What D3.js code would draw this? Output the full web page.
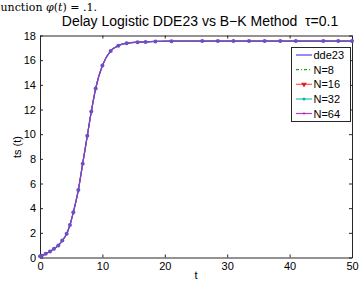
<!DOCTYPE html>
<html><head><meta charset="utf-8">
<script src="https://cdn.jsdelivr.net/npm/d3@7"></script>
<style>body{margin:0;background:#fff}svg{display:block}</style>
</head><body><div id="c"></div>
<script>
// Data (all solutions overlap)
const times = [0, 0.27, 0.91, 1.6, 2.24, 2.93, 3.57, 4.27, 4.8, 5.34, 6.14, 6.84, 7.58, 8.22, 8.92, 10.0, 11.33, 12.54, 13.88, 15.64, 16.92, 18.5, 21.07, 26, 28.5, 31, 33.5, 36, 38.5, 41, 45.4, 47.8, 50];
const dde23 = [0.1, 0.14, 0.3, 0.49, 0.70, 0.97, 1.37, 1.92, 2.64, 3.67, 5.47, 7.6, 9.87, 11.83, 13.7, 15.56, 16.75, 17.17, 17.38, 17.46, 17.48, 17.52, 17.54, 17.55, 17.55, 17.55, 17.55, 17.55, 17.55, 17.55, 17.55, 17.55, 17.55];
const n8  = dde23.slice();
const n16 = dde23.slice();
const n32 = dde23.slice();
const n64 = dde23.slice();
const xTicks = [0, 10, 20, 30, 40, 50];
const yTicks = [0, 2, 4, 6, 8, 10, 12, 14, 16, 18];
const legendLabels = ["dde23", "N=8", "N=16", "N=32", "N=64"];

const W = 360, H = 282;
const m = {l: 40, r: 8, t: 35.5, b: 24.5};
const svg = d3.select("#c").append("svg").attr("width", W).attr("height", H)
  .style("font-family", "'Liberation Sans', Arial, sans-serif");

const x = d3.scaleLinear().domain([0, 50]).range([m.l, W - m.r]);
const y = d3.scaleLinear().domain([0, 18]).range([H - m.b, m.t]);

// top-left caption (only its visible part)
const cap = svg.append("text").attr("x", 0.5).attr("y", 11)
  .style("font-family", "'DejaVu Serif',serif").style("font-size", "11px").attr("fill", "#000");
cap.append("tspan").text("unction ");
cap.append("tspan").style("font-style", "italic").text("φ");
cap.append("tspan").text("(");
cap.append("tspan").style("font-style", "italic").text("t");
cap.append("tspan").text(") = .1.");

// title
svg.append("text").attr("x", 200).attr("y", 26).attr("text-anchor", "middle")
  .style("font-size", "14px").attr("fill", "#000")
  .text("Delay Logistic DDE23 vs B\u2212K Method \u00a0\u03c4=0.1");

// axes (inward ticks on all sides)
const ax = "#262626";
const gB = svg.append("g").attr("transform", `translate(0,${H - m.b})`)
  .call(d3.axisBottom(x).tickValues(xTicks).tickSizeInner(-3).tickSizeOuter(0).tickPadding(5));
const gT = svg.append("g").attr("transform", `translate(0,${m.t})`)
  .call(d3.axisTop(x).tickValues(xTicks).tickSizeInner(-3).tickSizeOuter(0).tickFormat(""));
const gL = svg.append("g").attr("transform", `translate(${m.l},0)`)
  .call(d3.axisLeft(y).tickValues(yTicks).tickSizeInner(-3).tickSizeOuter(0).tickPadding(4));
const gR = svg.append("g").attr("transform", `translate(${W - m.r},0)`)
  .call(d3.axisRight(y).tickValues(yTicks).tickSizeInner(-3).tickSizeOuter(0).tickFormat(""));
[gB, gT, gL, gR].forEach(g => {
  g.selectAll("path,line").attr("stroke", ax);
  g.selectAll("text").style("font-size", "11px").style("font-family", "'Liberation Sans', Arial, sans-serif").attr("fill", "#000");
});

// axis labels
svg.append("text").attr("x", 196).attr("y", 279).attr("text-anchor", "middle")
  .style("font-size", "11px").text("t");
svg.append("text").attr("transform", "translate(21,147) rotate(-90)").attr("text-anchor", "middle")
  .style("font-size", "11px").text("ts (t)");

// series
const line = vals => d3.line().x((d, i) => x(times[i])).y(d => y(d)).curve(d3.curveMonotoneX)(vals);
const cols = {dde23: "#3b3bd9", n8: "#22a022", n16: "#e23a3a", n32: "#22b8b8", n64: "#8a3ac8"};
const g = svg.append("g");
g.append("path").attr("d", line(dde23)).attr("fill", "none").attr("stroke", cols.dde23).attr("stroke-width", 1.2);
g.append("path").attr("d", line(n8)).attr("fill", "none").attr("stroke", cols.n8).attr("stroke-width", 1).attr("stroke-dasharray", "4,2,1,2");
g.append("path").attr("d", line(n16)).attr("fill", "none").attr("stroke", cols.n16).attr("stroke-width", 1);
g.append("path").attr("d", line(n32)).attr("fill", "none").attr("stroke", cols.n32).attr("stroke-width", 1);
g.append("path").attr("d", line(n64)).attr("fill", "none").attr("stroke", cols.n64).attr("stroke-width", 1.3);
g.selectAll("circle.m").data(n64).join("circle").attr("class", "m")
  .attr("cx", (d, i) => x(times[i])).attr("cy", d => y(d)).attr("r", 2).attr("fill", "#6a50c4");

// legend
const lg = svg.append("g");
lg.append("rect").attr("x", 291.5).attr("y", 47.5).attr("width", 59).attr("height", 74)
  .attr("fill", "#fff").attr("stroke", ax).attr("stroke-width", 1);
const ly = [55, 69.7, 84.3, 99, 113.5];
const lc = ["#4646e6", "#22a022", "#ff5555", "#22c0c0", "#b040c0"];
legendLabels.forEach((lab, i) => {
  const l = lg.append("line").attr("x1", 296).attr("x2", 312).attr("y1", ly[i]).attr("y2", ly[i])
    .attr("stroke", lc[i]).attr("stroke-width", 1.2);
  if (i === 1) l.attr("stroke-dasharray", "3,2,1,2");
  if (i === 2) lg.append("path").attr("d", d3.symbol(d3.symbolTriangle, 14)()).attr("transform", `translate(304,${ly[i]}) rotate(180)`).attr("fill", "#e02020");
  if (i === 3) lg.append("circle").attr("cx", 304).attr("cy", ly[i]).attr("r", 1.6).attr("fill", "#20b0b0");
  if (i === 4) lg.append("circle").attr("cx", 304).attr("cy", ly[i]).attr("r", 1.1).attr("fill", "#a030b0");
  lg.append("text").attr("x", 313.5).attr("y", ly[i] + 4).style("font-size", "11px").attr("fill", "#000").text(lab);
});
</script></body></html>
